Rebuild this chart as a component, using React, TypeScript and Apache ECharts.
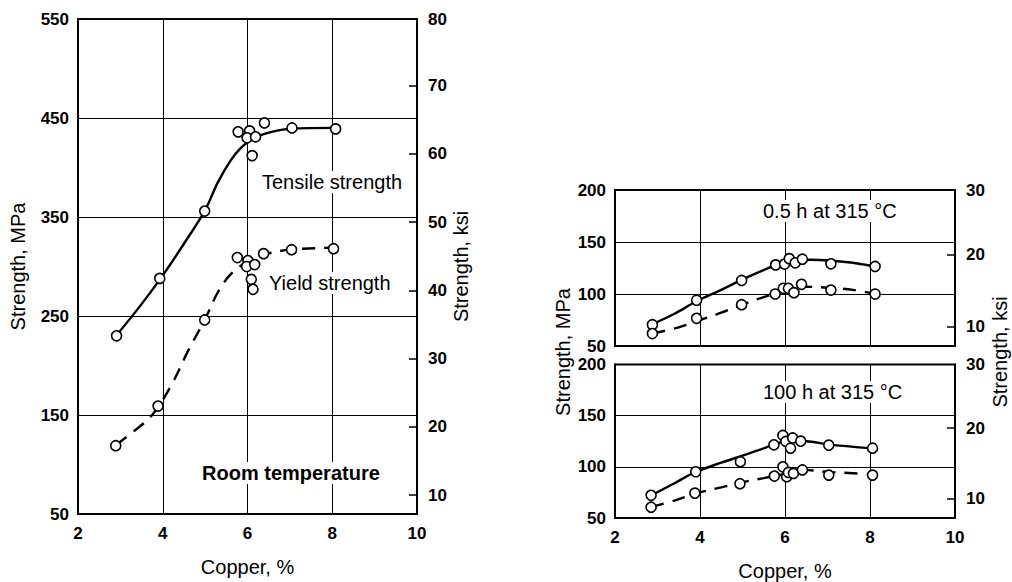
import React, { useEffect, useRef } from "react";
import * as echarts from "echarts";

// ---- Data (Copper %, Strength MPa) ----
const copperTickLabels = [2, 4, 6, 8, 10];
const MPA_PER_KSI = 6.895;

// Room temperature panel
const roomTensileCurve = [
  [2.9, 230], [3.5, 262], [4.0, 291], [4.5, 323], [5.0, 357], [5.3, 385],
  [5.6, 407], [5.85, 420], [6.1, 428], [6.4, 434], [7.0, 439], [8.05, 440],
];
const roomYieldCurve = [
  [2.9, 120], [3.3, 133], [3.75, 150], [4.2, 180], [4.6, 215], [5.0, 247],
  [5.3, 274], [5.6, 292], [6.0, 305], [6.4, 312], [7.0, 317], [8.05, 319],
];
const roomTensilePoints = [
  [2.91, 230], [3.93, 288], [4.99, 356], [5.78, 436], [6.05, 437], [5.99, 430],
  [6.11, 412], [6.19, 431], [6.4, 445], [7.05, 440], [8.08, 439],
];
const roomYieldPoints = [
  [2.89, 119], [3.89, 159], [4.99, 246], [5.76, 309], [6.01, 306], [5.98, 300],
  [6.17, 302], [6.09, 287], [6.13, 277], [6.38, 313], [7.04, 317], [8.03, 318],
];

// 0.5 h at 315 °C panel
const halfHourTensileCurve = [
  [2.88, 71], [3.4, 81], [3.92, 93], [4.5, 104], [5.0, 114], [5.5, 123],
  [5.8, 128], [6.2, 132], [6.6, 133], [7.1, 132], [7.6, 130], [8.12, 126.5],
];
const halfHourYieldCurve = [
  [2.88, 62], [3.5, 68], [4.0, 75], [4.5, 82], [5.0, 90], [5.5, 97],
  [6.0, 103], [6.5, 107], [7.0, 106], [7.6, 104], [8.12, 100],
];
const halfHourTensilePoints = [
  [2.88, 70.5], [3.92, 94], [4.98, 113], [5.78, 128], [5.99, 128.8], [6.1, 134],
  [6.24, 130], [6.41, 133.5], [7.08, 129], [8.12, 126.5],
];
const halfHourYieldPoints = [
  [2.88, 62], [3.92, 76.6], [4.98, 89.7], [5.77, 100], [5.96, 105.5], [6.08, 105.5],
  [6.21, 101.3], [6.39, 109.3], [7.08, 103.8], [8.12, 100],
];

// 100 h at 315 °C panel
const hundredHourTensileCurve = [
  [2.85, 72], [3.4, 84], [3.9, 95], [4.5, 104], [5.0, 111], [5.5, 118],
  [5.75, 122], [6.1, 125], [6.5, 125], [7.0, 122], [8.06, 118],
];
const hundredHourYieldCurve = [
  [2.85, 61], [3.4, 67], [3.9, 74], [4.5, 80], [5.0, 85], [5.5, 89],
  [5.8, 91.5], [6.2, 94.5], [6.45, 97], [7.0, 95], [7.5, 94], [8.06, 92.5],
];
const hundredHourTensilePoints = [
  [2.85, 72.2], [3.9, 95.2], [4.95, 105], [5.74, 121.5], [5.95, 130.7], [6.02, 124.8],
  [6.13, 118.2], [6.18, 128.2], [6.37, 125.1], [7.03, 121.2], [8.06, 118.2],
];
const hundredHourYieldPoints = [
  [2.85, 60.6], [3.88, 74.3], [4.94, 83.5], [5.75, 91], [5.95, 100], [6.04, 90.4],
  [6.08, 94.5], [6.2, 93.6], [6.41, 97], [7.03, 91.9], [8.06, 91.9],
];

const roomMpaTicks = { min: 50, max: 550, interval: 100 };
const hotMpaTicks = { min: 50, max: 200, interval: 50 };
const roomKsiTicks = [10, 20, 30, 40, 50, 60, 70];
const hotKsiTicks = [10, 20];

const TEXT_FONT = "'Liberation Sans', Arial, Helvetica, sans-serif";
const TICK_FONT = "'Liberation Sans Narrow', 'Liberation Sans', Arial, sans-serif";

export default function App() {
  const ref = useRef<HTMLDivElement>(null);

  useEffect(() => {
    if (!ref.current) return;
    const chart = echarts.init(ref.current, undefined, { renderer: "svg" });

    const tickLabel = {
      color: "#000",
      fontFamily: TICK_FONT,
      fontWeight: "bold" as const,
      fontSize: 17,
    };
    const axisName = {
      color: "#000",
      fontFamily: TEXT_FONT,
      fontSize: 20,
    };
    const black = { color: "#000", width: 2 };
    const gridLine = { show: true, lineStyle: { color: "#000", width: 1 } };

    const xAxis = (gridIndex: number, showLabels: boolean) => ({
      type: "value" as const,
      gridIndex,
      min: copperTickLabels[0],
      max: copperTickLabels[copperTickLabels.length - 1],
      interval: 2,
      axisLine: { show: true, onZero: false, lineStyle: black },
      axisTick: { show: false },
      splitLine: gridLine,
      axisLabel: { ...tickLabel, show: showLabels, margin: 11 },
      name: showLabels ? "Copper, %" : "",
      nameLocation: "middle" as const,
      nameGap: 43,
      nameTextStyle: axisName,
    });

    const mpaAxis = (gridIndex: number, t: any, name: string, nameGap: number) => ({
      type: "value" as const,
      gridIndex,
      position: "left" as const,
      min: t.min,
      max: t.max,
      interval: t.interval,
      axisLine: { show: true, onZero: false, lineStyle: black },
      axisTick: { show: false },
      splitLine: gridLine,
      axisLabel: { ...tickLabel, margin: 9 },
      name,
      nameLocation: "middle" as const,
      nameRotate: 90,
      nameGap,
      nameTextStyle: axisName,
    });

    const ksiAxis = (gridIndex: number, t: any, ticks: number[], name: string, nameGap: number) => {
      const kmin = t.min / MPA_PER_KSI;
      const kmax = t.max / MPA_PER_KSI;
      return {
        type: "value" as const,
        gridIndex,
        position: "right" as const,
        min: kmin,
        max: kmax,
        axisLine: { show: true, onZero: false, lineStyle: black },
        axisTick: {
          show: true,
          inside: true,
          length: 8,
          customValues: ticks,
          lineStyle: { color: "#000", width: 1.5 },
        },
        splitLine: { show: false },
        axisLabel: {
          ...tickLabel,
          margin: 11,
          customValues: [...ticks, kmax],
          formatter: (v: number) => String(Math.round(v / 10) * 10),
        },
        name,
        nameLocation: "middle" as const,
        nameRotate: 90,
        nameGap,
        nameTextStyle: axisName,
      };
    };

    const curve = (xi: number, yi: number, data: number[][], dashed: boolean) => ({
      type: "line" as const,
      xAxisIndex: xi,
      yAxisIndex: yi,
      data,
      smooth: 0.35,
      showSymbol: false,
      symbol: "none",
      lineStyle: {
        color: "#000",
        width: 2.4,
        type: dashed ? ([13, 9] as any) : "solid",
      },
      z: 3,
      silent: true,
    });

    const points = (xi: number, yi: number, data: number[][]) => ({
      type: "scatter" as const,
      xAxisIndex: xi,
      yAxisIndex: yi,
      data,
      symbol: "circle",
      symbolSize: 10,
      itemStyle: { color: "#fff", borderColor: "#000", borderWidth: 1.6, opacity: 1 },
      z: 5,
      silent: true,
    });

    const note = (x: number, y: number, text: string, bold = false) => ({
      type: "text" as const,
      x,
      y,
      z: 4,
      style: {
        text,
        fill: "#000",
        font: `${bold ? "bold " : ""}20px ${TEXT_FONT}`,
        verticalAlign: "middle" as const,
        align: "left" as const,
        backgroundColor: "#fff",
        padding: [1, 3],
      },
    });

    const vTitle = (x: number, y: number, text: string) => ({
      type: "text" as const,
      x,
      y,
      rotation: Math.PI / 2,
      style: {
        text,
        fill: "#000",
        font: `20px ${TEXT_FONT}`,
        align: "center" as const,
        verticalAlign: "middle" as const,
      },
    });

    const gridBox = { show: true, borderColor: "#000", borderWidth: 2, backgroundColor: "transparent" };

    const option = {
      animation: false,
      backgroundColor: "#fff",
      grid: [
        { left: 78, top: 19, width: 339, height: 501, ...gridBox },
        { left: 615, top: 190, width: 340, height: 156, ...gridBox },
        { left: 615, top: 364.5, width: 340, height: 156, ...gridBox },
      ],
      xAxis: [
        xAxis(0, true),
        xAxis(1, false),
        xAxis(2, true),
      ],
      yAxis: [
        mpaAxis(0, roomMpaTicks, "Strength, MPa", 50),
        ksiAxis(0, roomMpaTicks, roomKsiTicks, "Strength, ksi", 18),
        mpaAxis(1, hotMpaTicks, "", 40),
        ksiAxis(1, hotMpaTicks, hotKsiTicks, "", 30),
        mpaAxis(2, hotMpaTicks, "", 40),
        ksiAxis(2, hotMpaTicks, hotKsiTicks, "", 30),
      ],
      series: [
        curve(0, 0, roomTensileCurve, false),
        curve(0, 0, roomYieldCurve, true),
        points(0, 0, roomTensilePoints),
        points(0, 0, roomYieldPoints),
        curve(1, 2, halfHourTensileCurve, false),
        curve(1, 2, halfHourYieldCurve, true),
        points(1, 2, halfHourTensilePoints),
        points(1, 2, halfHourYieldPoints),
        curve(2, 4, hundredHourTensileCurve, false),
        curve(2, 4, hundredHourYieldCurve, true),
        points(2, 4, hundredHourTensilePoints),
        points(2, 4, hundredHourYieldPoints),
      ],
      graphic: [
        note(259, 182, "Tensile strength"),
        note(266, 283, "Yield strength"),
        note(199, 473, "Room temperature", true),
        note(760, 211, "0.5 h at 315 °C"),
        note(760, 392, "100 h at 315 °C"),
        vTitle(563, 352, "Strength, MPa"),
        vTitle(1000, 352, "Strength, ksi"),
      ],
    };

    chart.setOption(option as any);
    return () => chart.dispose();
  }, []);

  return (
    <div
      ref={ref}
      style={{ position: "absolute", left: 0, top: 0, width: 1012, height: 582, background: "#fff" }}
    />
  );
}
